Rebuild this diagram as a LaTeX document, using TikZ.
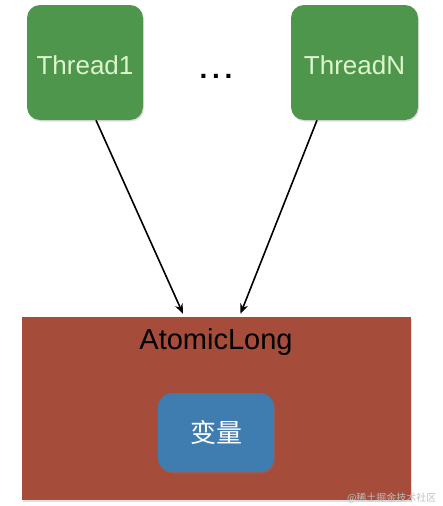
\documentclass[tikz,border=0pt]{standalone}
\usepackage{fontspec}
\setmainfont{Liberation Sans}
\newfontfamily\cjk{Noto Sans CJK SC}
\usetikzlibrary{arrows.meta,shadows}
\definecolor{thgreen}{RGB}{78,150,75}
\definecolor{thtext}{RGB}{222,245,205}
\definecolor{alred}{RGB}{166,76,58}
\definecolor{varblue}{RGB}{63,124,176}
\begin{document}
\begin{tikzpicture}[x=1pt,y=-1pt,
  threadbox/.style={fill=thgreen, rounded corners=13pt, minimum width=116pt, minimum height=115pt, inner sep=0pt, text=thtext, font=\fontsize{26}{28}\selectfont, text height=24pt, text depth=0pt, drop shadow={opacity=0.25, shadow xshift=1pt, shadow yshift=-1.5pt}},
  albox/.style={fill=alred, minimum width=389pt, minimum height=183pt, inner sep=0pt, drop shadow={opacity=0.25, shadow xshift=1pt, shadow yshift=-1.5pt}},
  varbox/.style={fill=varblue, rounded corners=14pt, minimum width=116pt, minimum height=79pt, inner sep=0pt, text=white, font=\cjk\fontsize{26}{28}\selectfont, drop shadow={opacity=0.3, shadow xshift=1pt, shadow yshift=-1.5pt}},
  arr/.style={-{Stealth[length=10pt,width=8pt]}, line width=1.6pt, black}
]
\useasboundingbox (0,0) rectangle (442,506);
\node[threadbox] (t1) at (85,62.5) {Thread1};
\node[threadbox, minimum width=127pt] (tn) at (354.5,62.5) {ThreadN};
\node[font=\bfseries\fontsize{28}{30}\selectfont] (dots) at (216,76) {.\,.\,.};
\node[albox] (al) at (216.5,408.5) {};
\node[font=\fontsize{29}{32}\selectfont, text=black] (altext) at (216,342) {AtomicLong};
\node[varbox] (var) at (216,432.5) {变量};
\node[text=black!25, font=\cjk\fontsize{10}{12}\selectfont, anchor=east] (wm) at (440,498) {@稀土掘金技术社区};
\draw[arr] ([xshift=11pt]t1.south) -- ([xshift=-33.5pt,yshift=3pt]al.north);
\draw[arr] ([xshift=-37.5pt]tn.south) -- ([xshift=24pt,yshift=3pt]al.north);
\end{tikzpicture}
\end{document}
